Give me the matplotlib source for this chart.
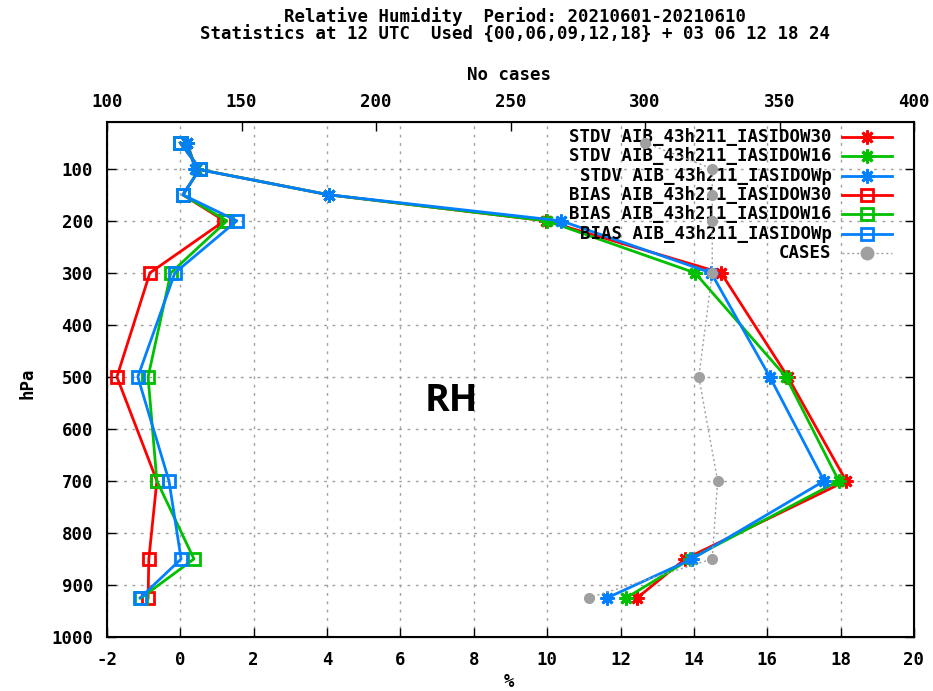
import matplotlib.pyplot as plt
from matplotlib.lines import Line2D

# pressure levels (hPa)
levels = [50, 100, 150, 200, 300, 500, 700, 850, 925]

# standard deviation of RH (%) per experiment
stdv_w30 = [0.18, 0.42, 4.05, 9.97, 14.74, 16.56, 18.15, 13.76, 12.45]
stdv_w16 = [0.18, 0.42, 4.05, 9.99, 14.03, 16.51, 17.95, 13.90, 12.15]
stdv_wp = [0.18, 0.40, 4.05, 10.38, 14.47, 16.07, 17.55, 13.95, 11.63]

# bias of RH (%) per experiment
bias_w30 = [0.0, 0.53, 0.07, 1.20, -0.83, -1.73, -0.64, -0.86, -0.88]
bias_w16 = [0.0, 0.53, 0.07, 1.27, -0.26, -0.88, -0.64, 0.37, -1.07]
bias_wp = [0.0, 0.53, 0.07, 1.54, -0.15, -1.16, -0.31, 0.02, -1.10]

# number of cases per level
cases = [300, 325, 325, 325, 325, 320, 327, 325, 279]

names = ['AIB_43h211_IASIDOW30', 'AIB_43h211_IASIDOW16', 'AIB_43h211_IASIDOWp']
colors = ['#ff0000', '#00c000', '#0080ff']

xticks = list(range(-2, 21, 2))
yticks = list(range(100, 1001, 100))
x2ticks = list(range(100, 401, 50))

mono = dict(family='DejaVu Sans Mono', weight='bold', size=12.5)

fig = plt.figure(figsize=(9.33, 6.91), dpi=100)
ax = fig.add_axes([107 / 933, 1 - 637 / 691, 807 / 933, 515 / 691])

star = (8, 2, 0)
for vals, c in zip([stdv_w30, stdv_w16, stdv_wp], colors):
    ax.plot(vals, levels, color=c, lw=2, marker=star, ms=10, mew=2)
for vals, c in zip([bias_w30, bias_w16, bias_wp], colors):
    ax.plot(vals, levels, color=c, lw=2, marker='s', ms=8, mew=2,
            mfc='none')

ax.set_xlim(-2, 20)
ax.set_ylim(1000, 10)
ax.set_xticks(xticks)
ax.set_yticks(yticks)
ax.set_xticklabels([str(t) for t in xticks], fontdict=mono)
ax.set_yticklabels([str(t) for t in yticks], fontdict=mono)
ax.tick_params(direction='in', length=6.5, width=1, top=True, right=True,
               pad=10)
ax.grid(True, color='#a0a0a0', linestyle=(0, (2, 4)), lw=1)
for s in ax.spines.values():
    s.set_linewidth(1.5)
ax.set_xlabel('%', fontdict=mono, va='center')
ax.set_ylabel('hPa', fontdict=mono, va='center')
ax.xaxis.set_label_coords(0.498, -0.087)
ax.yaxis.set_label_coords(-0.098, 0.493)

# cases on the secondary x axis
ax2 = ax.twiny()
ax2.plot(cases, levels, color='#a0a0a0', lw=1, linestyle=(0, (1.5, 2)),
         marker='o', ms=7)
ax2.set_xlim(100, 400)
ax2.set_xticks(x2ticks)
ax2.set_xticklabels([str(t) for t in x2ticks], fontdict=mono)
ax2.tick_params(direction='in', length=6.5, width=1, pad=8)
ax2.set_xlabel('No cases', fontdict=mono, va='center')
ax2.xaxis.set_label_coords(0.498, 1.091)

# legend, text right aligned next to the line samples
labels = ['STDV ' + n for n in names] + ['BIAS ' + n for n in names] + ['CASES']
styles = [(c, star, 'full', '-', 2) for c in colors] + \
         [(c, 's', 'none', '-', 2) for c in colors] + \
         [('#a0a0a0', 'o', 'full', (0, (1.5, 2)), 1)]
for i, (lab, (c, m, fill, ls, lw)) in enumerate(zip(labels, styles)):
    yy = 1 - (137 + i * 19.3 - 122) / 515
    ax.text(0.898, yy, lab, transform=ax.transAxes, ha='right', va='center',
            fontdict=mono, zorder=5)
    ln = Line2D([0.911, 0.973], [yy, yy], transform=ax.transAxes, color=c,
                lw=lw, linestyle=ls, zorder=5)
    mk = Line2D([0.942], [yy], transform=ax.transAxes, color=c, marker=m,
                ms=10 if m == star else 8, mew=2,
                mfc='none' if fill == 'none' else c, zorder=5)
    ax.add_line(ln)
    ax.add_line(mk)

ax.text(7.4, 546, 'RH', fontsize=27, fontweight='bold', family='Open Sans',
        ha='center', va='center')

fig.text(0.552, 1 - 17 / 691, 'Relative Humidity  Period: 20210601-20210610',
         ha='center', va='center', fontdict=mono)
fig.text(0.552, 1 - 35 / 691,
         'Statistics at 12 UTC  Used {00,06,09,12,18} + 03 06 12 18 24',
         ha='center', va='center', fontdict=mono)

fig.savefig('out.png', dpi=100)
